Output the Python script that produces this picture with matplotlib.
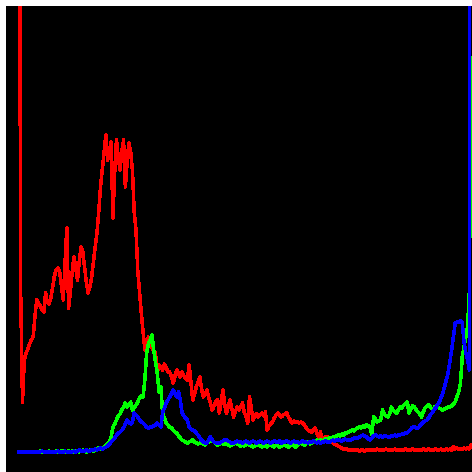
import numpy as np
import matplotlib
matplotlib.use("Agg")
import matplotlib.pyplot as plt

# intensity bins 0..255
bins = np.arange(256)

red = [800, 157, 50, 92, 99, 103, 108, 112, 115, 135,
       152, 149, 146, 142, 140, 159, 150, 148, 154, 165,
       176, 182, 184, 180, 165, 152, 190, 224, 144, 160,
       180, 195, 185, 172, 190, 205, 200, 185, 170, 159,
       165, 175, 190, 205, 219, 240, 265, 282, 300, 317,
       292, 300, 310, 234, 280, 312, 295, 282, 300, 312,
       265, 290, 309, 300, 282, 240, 222, 182, 160, 139,
       120, 102, 108, 115, 112, 105, 100, 99, 79, 87,
       85, 82, 88, 85, 80, 80, 75, 69, 76, 82,
       78, 75, 80, 76, 74, 72, 87, 70, 52, 58,
       65, 70, 75, 63, 55, 58, 62, 55, 49, 42,
       46, 50, 52, 39, 50, 62, 48, 39, 45, 52,
       44, 35, 40, 45, 42, 45, 49, 40, 36, 29,
       55, 44, 32, 36, 38, 35, 37, 39, 36, 40,
       22, 26, 28, 30, 34, 37, 39, 37, 35, 37,
       38, 39, 35, 32, 29, 31, 30, 30, 29, 30,
       29, 27, 24, 22, 21, 20, 22, 24, 19, 15,
       20, 12, 14, 15, 15, 12, 11, 9, 8, 7,
       6, 5, 4, 3, 3, 3, 2, 2, 2, 2,
       2, 2, 1, 2, 2, 1, 2, 2, 2, 2,
       2, 2, 3, 2, 2, 2, 2, 3, 2, 2,
       2, 2, 3, 2, 2, 2, 2, 2, 3, 2,
       2, 2, 3, 2, 2, 2, 2, 2, 3, 2,
       2, 3, 2, 2, 2, 3, 2, 2, 3, 2,
       2, 3, 2, 3, 2, 5, 3, 4, 3, 3,
       3, 4, 3, 4, 3, 7]

green = [0, 0, 0, 0, 0, 0, 0, 0, 0, 0,
         0, 0, 1, 0, 0, 0, 0, 1, 0, 0,
         0, 1, 0, 0, 1, 1, 0, 0, 1, 0,
         1, 0, 1, 1, 0, 1, 2, 1, 0, 1,
         2, 2, 1, 3, 3, 4, 3, 4, 5, 7,
         8, 10, 15, 25, 28, 32, 36, 38, 42, 45,
         49, 45, 47, 50, 42, 44, 47, 50, 54, 56,
         55, 72, 99, 108, 112, 117, 102, 90, 79, 60,
         65, 39, 34, 29, 27, 25, 24, 22, 20, 19,
         16, 14, 12, 11, 10, 9, 10, 11, 12, 10,
         9, 8, 9, 9, 8, 7, 9, 10, 11, 12,
         10, 8, 7, 8, 9, 8, 8, 9, 7, 6,
         7, 8, 9, 8, 7, 6, 7, 6, 7, 8,
         7, 6, 5, 6, 7, 8, 6, 5, 7, 6,
         5, 7, 8, 6, 5, 7, 6, 5, 6, 8,
         7, 6, 5, 7, 8, 6, 5, 7, 8, 9,
         8, 7, 9, 10, 8, 9, 10, 11, 12, 11,
         12, 11, 12, 13, 12, 14, 13, 15, 14, 16,
         17, 16, 18, 17, 19, 19, 20, 21, 22, 21,
         23, 24, 25, 24, 26, 25, 27, 26, 25, 17,
         35, 33, 30, 31, 32, 42, 38, 36, 35, 38,
         45, 42, 40, 39, 42, 45, 44, 47, 48, 50,
         39, 43, 46, 45, 42, 40, 38, 35, 40, 44,
         46, 47, 45, 43, 44, 46, 45, 44, 43, 42,
         43, 44, 45, 45, 46, 48, 50, 55, 60, 69,
         95, 105, 115, 125, 160, 394]

blue = [0, 0, 0, 0, 0, 0, 0, 0, 0, 0,
        0, 0, 0, 1, 0, 0, 0, 0, 0, 0,
        0, 0, 1, 0, 0, 0, 1, 0, 0, 0,
        0, 1, 0, 1, 2, 1, 1, 1, 2, 1,
        1, 2, 2, 3, 2, 3, 4, 3, 4, 5,
        6, 8, 10, 12, 14, 17, 19, 20, 22, 24,
        28, 32, 30, 28, 30, 39, 37, 35, 32, 30,
        29, 27, 25, 24, 25, 25, 26, 27, 29, 27,
        25, 39, 44, 49, 52, 55, 58, 62, 58, 55,
        60, 52, 39, 36, 34, 32, 25, 23, 22, 21,
        19, 17, 14, 12, 10, 9, 9, 12, 15, 12,
        10, 9, 9, 9, 10, 11, 12, 12, 11, 10,
        9, 9, 10, 11, 10, 10, 9, 10, 11, 10,
        9, 10, 11, 10, 9, 10, 11, 10, 9, 10,
        11, 10, 9, 10, 11, 10, 10, 11, 9, 10,
        10, 11, 10, 9, 10, 11, 10, 10, 9, 10,
        11, 10, 10, 9, 10, 10, 11, 10, 9, 10,
        9, 10, 10, 11, 10, 10, 11, 12, 11, 12,
        12, 12, 11, 12, 13, 12, 12, 12, 13, 14,
        14, 14, 15, 16, 17, 16, 15, 13, 12, 14,
        16, 17, 16, 15, 16, 15, 16, 16, 15, 15,
        16, 16, 17, 16, 17, 17, 18, 18, 19, 19,
        21, 23, 25, 25, 24, 24, 26, 28, 30, 31,
        32, 34, 37, 39, 42, 44, 47, 50, 54, 59,
        65, 72, 79, 90, 102, 115, 129, 130, 130, 131,
        129, 110, 99, 92, 82, 2500]

fig = plt.figure(figsize=(4.72, 4.72), dpi=100, facecolor='white')
ax = fig.add_axes([6 / 472, 0, 466 / 472, 466 / 472])
ax.set_facecolor('black')

# crisp, non-antialiased strokes like the original raster
ax.plot(bins, red, color='#ff0000', lw=1.8, antialiased=False)
ax.plot(bins, green, color='#00ff00', lw=1.8, antialiased=False)
ax.plot(bins, blue, color='#0000ff', lw=1.8, antialiased=False)

ax.set_xlim(-7.3, 255.5)
ax.set_ylim(-20, 446)
ax.set_xticks([])
ax.set_yticks([])
for s in ax.spines.values():
    s.set_visible(False)

fig.savefig('out.png', dpi=100, facecolor='white')
